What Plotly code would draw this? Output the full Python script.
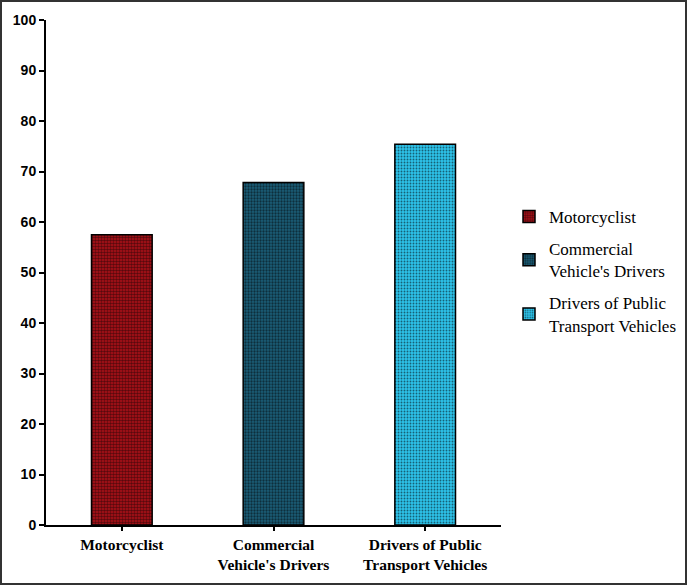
import plotly.graph_objects as go

categories = ["Motorcyclist", "Commercial<br>Vehicle's Drivers", "Drivers of Public<br>Transport Vehicles"]
legend_names = ["Motorcyclist", "Commercial<br>Vehicle's Drivers", "Drivers of Public<br>Transport Vehicles"]
values = [57.5, 67.8, 75.4]
colors = ["#B3121A", "#1B5E78", "#2DC3EA"]
dot_solidity = [0.55, 0.45, 0.3]

fig = go.Figure()
for i, (cat, name, v, c, s) in enumerate(zip(categories, legend_names, values, colors, dot_solidity)):
    fig.add_trace(go.Bar(
        x=[cat], y=[v], name=name, width=0.4,
        legendgroup=f"g{i}",
        marker=dict(color=c, line=dict(color="black", width=1.5),
                    pattern=dict(shape=".", fgcolor="black", bgcolor=c, size=3, solidity=s)),
    ))

fig.update_layout(
    width=688, height=586,
    margin=dict(l=46, r=187, t=20, b=61, autoexpand=False),
    paper_bgcolor="white", plot_bgcolor="white",
    barmode="overlay",
    showlegend=True,
    legend=dict(xref="container", yref="container",
                x=(545 - 36) / 688, y=1 - 199 / 586, xanchor="left", yanchor="top",
                font=dict(family="Liberation Serif", size=17, color="black"),
                tracegroupgap=7, bgcolor="rgba(0,0,0,0)"),
    xaxis=dict(categoryorder="array", categoryarray=categories,
               range=[-0.5, 2.5], showline=True, linecolor="black", linewidth=2,
               ticks="outside", ticklen=4, tickwidth=2, tickcolor="black",
               tickfont=dict(family="Liberation Serif", size=15.5, color="black", weight="bold"),
               showgrid=False, zeroline=False),
    yaxis=dict(range=[0, 100], tickvals=list(range(0, 101, 10)),
               showline=True, linecolor="black", linewidth=2,
               ticks="outside", ticklen=5, tickwidth=2, tickcolor="black",
               tickfont=dict(family="Liberation Sans", size=14, color="black", weight="bold"),
               showgrid=False, zeroline=False),
    shapes=[dict(type="rect", xref="paper", yref="paper",
                 x0=(1 - 46) / 455, x1=(686 - 46) / 455,
                 y0=(525 - 584) / 505, y1=(525 - 1) / 505,
                 line=dict(color="#333333", width=2), fillcolor="rgba(0,0,0,0)", layer="below")],
)

fig.write_html(
    "out.html",
    config={"displayModeBar": False, "responsive": False},
    post_script=("document.body.style.margin='0';"
                 "document.body.style.overflow='hidden';"
                 "document.documentElement.style.overflow='hidden';"),
)
